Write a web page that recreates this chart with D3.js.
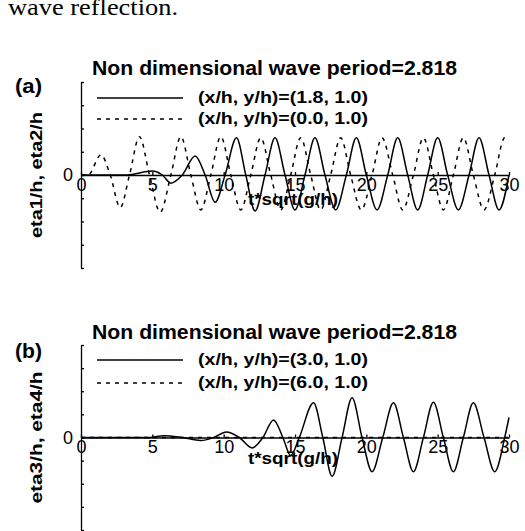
<!DOCTYPE html>
<html lang="en">
<head>
    <meta charset="UTF-8">
    <title>Wave period 2.818</title>
    <script src="https://d3js.org/d3.v7.min.js"></script>
    <style>
        body { margin: 0; background: #fff; }
        svg { display: block; }
        text { font-family: "Liberation Sans", Arial, sans-serif; fill: #000; }
    </style>
</head>
<body>
    <div id="container"></div>

    <script>
        // Tick values
        const xTicks = [0, 5, 10, 15, 20, 25, 30];
        const yTicks = [-0.4, -0.3, -0.2, -0.1, 0, 0.1, 0.2, 0.3, 0.4];

        // Panel (a), solid: (x/h, y/h)=(1.8, 1.0)
        const eta1T = [0, 3.2, 5.0, 5.7, 6.3, 7.1, 8.0, 8.7, 9.4, 10.1, 10.9, 11.55, 12.2, 12.9, 13.6, 14.3, 15.0, 15.7, 16.4,
                       17.1, 17.85, 18.6, 19.3, 20.0, 20.75, 21.5, 22.2, 22.9, 23.6, 24.3, 25.0, 25.7, 26.45, 27.2, 27.9, 28.6, 29.3, 30.0];
        const eta1V = [0, 0, 0.017, 0, -0.035, 0, 0.082, 0, -0.117, 0, 0.16, 0, -0.155, 0, 0.16, 0, -0.15, 0, 0.16,
                       0, -0.15, 0, 0.16, 0, -0.15, 0, 0.16, 0, -0.15, 0, 0.16, 0, -0.15, 0, 0.16, 0, -0.15, 0];

        // Panel (a), dashed: (x/h, y/h)=(0.0, 1.0)
        const eta2T = [0, 0.5, 1.4, 2.05, 2.75, 3.4, 4.1, 4.8, 5.55, 6.3, 7.0, 7.7, 8.4, 9.1, 9.8, 10.5, 11.2, 11.9, 12.6, 13.3,
                       14.0, 14.7, 15.4, 16.1, 16.8, 17.5, 18.2, 18.9, 19.65, 20.4, 21.1, 21.85, 22.55, 23.3, 24.0, 24.7,
                       25.4, 26.1, 26.8, 27.5, 28.25, 29.0, 29.7, 30.0];
        const eta2V = [0, 0, 0.087, 0, -0.14, 0, 0.165, 0, -0.16, 0, 0.165, 0, -0.15, 0, 0.165, 0, -0.15, 0, 0.16, 0,
                       -0.15, 0, 0.16, 0, -0.15, 0, 0.16, 0, -0.15, 0, 0.16, 0, -0.15, 0, 0.16, 0,
                       -0.15, 0, 0.16, 0, -0.15, 0, 0.16, 0.155];

        // Panel (b), solid: (x/h, y/h)=(3.0, 1.0)
        const eta3T = [0, 4.8, 5.8, 7.1, 8.4, 9.3, 10.2, 11.1, 12.0, 12.75, 13.5, 14.15, 14.7, 15.3, 16.3, 16.95, 17.6, 18.3,
                       19.0, 19.7, 20.4, 21.15, 21.9, 22.6, 23.3, 24.0, 24.7, 25.4, 26.1, 26.8, 27.5, 28.25, 29.0, 29.7, 30.0];
        const eta3V = [0, 0, 0.008, 0, -0.013, 0, 0.024, 0, -0.045, 0, 0.076, 0, -0.078, 0, 0.15, 0, -0.168, 0,
                       0.172, 0, -0.148, 0, 0.15, 0, -0.148, 0, 0.152, 0, -0.148, 0, 0.15, 0, -0.148, 0, 0.087];

        // Panel (b), dashed: (x/h, y/h)=(6.0, 1.0)
        const eta4T = [0, 5, 10, 15, 20, 25, 30];
        const eta4V = [0, 0, 0, 0, 0, 0, 0];

        const width = 525, height = 531;

        const svg = d3.select('#container')
            .append('svg')
            .attr('width', width)
            .attr('height', height);

        // cut-off caption line from the page above
        svg.append('text')
            .attr('x', 8)
            .attr('y', 15)
            .attr('textLength', 170)
            .attr('lengthAdjust', 'spacingAndGlyphs')
            .style('font-family', '"Liberation Serif", "Times New Roman", serif')
            .style('font-size', '24px')
            .text('wave reflection.');

        const x = d3.scaleLinear().domain([0, 30]).range([81, 509]);

        const panels = [
            {
                tag: '(a)', tagY: 93, titleY: 75, top: 82, bottom: 268,
                ylabel: 'eta1/h, eta2/h', ylabelLen: 126, xlabelY: 205,
                legendY: [98, 119],
                series: [
                    { t: eta1T, v: eta1V, dash: null, label: '(x/h, y/h)=(1.8, 1.0)' },
                    { t: eta2T, v: eta2V, dash: '4,5', label: '(x/h, y/h)=(0.0, 1.0)' }
                ]
            },
            {
                tag: '(b)', tagY: 358, titleY: 339, top: 345, bottom: 530,
                ylabel: 'eta3/h, eta4/h', ylabelLen: 132, xlabelY: 464,
                legendY: [360, 383],
                series: [
                    { t: eta3T, v: eta3V, dash: null, label: '(x/h, y/h)=(3.0, 1.0)' },
                    { t: eta4T, v: eta4V, dash: '4,5', label: '(x/h, y/h)=(6.0, 1.0)' }
                ]
            }
        ];

        panels.forEach(p => {
            const y = d3.scaleLinear().domain([-0.4, 0.4]).range([p.bottom, p.top]);
            const g = svg.append('g');

            // title
            g.append('text')
                .attr('x', 92)
                .attr('y', p.titleY)
                .attr('textLength', 365)
                .attr('lengthAdjust', 'spacingAndGlyphs')
                .style('font-size', '20px')
                .style('font-weight', 'bold')
                .text('Non dimensional wave period=2.818');

            // panel tag
            g.append('text')
                .attr('x', 15)
                .attr('y', p.tagY)
                .attr('textLength', 27)
                .attr('lengthAdjust', 'spacingAndGlyphs')
                .style('font-size', '20px')
                .style('font-weight', 'bold')
                .text(p.tag);

            // y axis, ticks pointing inwards
            const yAxis = g.append('g')
                .attr('transform', `translate(${x(0)},0)`)
                .call(d3.axisLeft(y).tickValues(yTicks).tickSize(-3).tickSizeOuter(0)
                    .tickPadding(8).tickFormat(d => d === 0 ? '0' : ''));
            yAxis.selectAll('text').style('font-size', '18px').attr('font-family', null);
            yAxis.selectAll('path, line').attr('stroke', '#000').attr('stroke-width', 1.3);

            // x axis along eta = 0
            const xAxis = g.append('g')
                .attr('transform', `translate(0,${y(0)})`)
                .call(d3.axisBottom(x).tickValues(xTicks).tickSize(-3).tickSizeOuter(0).tickPadding(2));
            xAxis.selectAll('text').style('font-size', '18px').attr('font-family', null).attr('dy', '0.75em');
            xAxis.selectAll('path, line').attr('stroke', '#000').attr('stroke-width', 1.3);

            // y label
            g.append('text')
                .attr('transform', `translate(42,${(p.top + p.bottom) / 2}) rotate(-90)`)
                .attr('text-anchor', 'middle')
                .attr('textLength', p.ylabelLen)
                .attr('lengthAdjust', 'spacingAndGlyphs')
                .style('font-size', '17px')
                .style('font-weight', 'bold')
                .text(p.ylabel);

            // x label
            g.append('text')
                .attr('x', 248)
                .attr('y', p.xlabelY)
                .attr('textLength', 90)
                .attr('lengthAdjust', 'spacingAndGlyphs')
                .style('font-size', '17px')
                .style('font-weight', 'bold')
                .text('t*sqrt(g/h)');

            const line = d3.line()
                .x(d => x(d[0]))
                .y(d => y(d[1]))
                .curve(d3.curveMonotoneX);

            p.series.forEach((s, i) => {
                g.append('path')
                    .datum(d3.zip(s.t, s.v))
                    .attr('fill', 'none')
                    .attr('stroke', '#000')
                    .attr('stroke-width', 1.5)
                    .attr('stroke-dasharray', s.dash)
                    .attr('d', line);

                // legend entry
                g.append('line')
                    .attr('x1', 97).attr('x2', 183)
                    .attr('y1', p.legendY[i]).attr('y2', p.legendY[i])
                    .attr('stroke', '#000')
                    .attr('stroke-width', 1.5)
                    .attr('stroke-dasharray', s.dash);

                g.append('text')
                    .attr('x', 198)
                    .attr('y', p.legendY[i] + 5)
                    .attr('textLength', 170)
                    .attr('lengthAdjust', 'spacingAndGlyphs')
                    .style('font-size', '17px')
                    .style('font-weight', 'bold')
                    .text(s.label);
            });
        });
    </script>
</body>
</html>
